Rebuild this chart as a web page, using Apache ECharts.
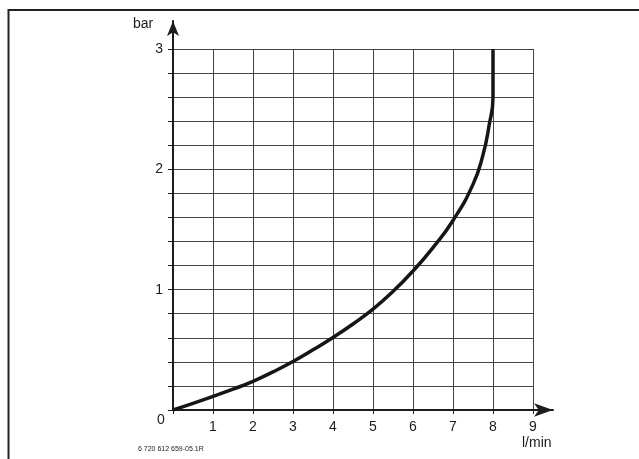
<!DOCTYPE html>
<html>
<head>
<meta charset="utf-8">
<script src="https://cdn.jsdelivr.net/npm/echarts@6/dist/echarts.min.js"></script>
<style>
  html, body { margin: 0; padding: 0; background: #fff; }
  #chart { width: 639px; height: 459px; }
</style>
</head>
<body>
<div id="chart"></div>
<script>
// Flow rate (l/min) against pressure (bar)
const flowRate = [0, 0.5, 1, 1.5, 2, 2.5, 3, 3.5, 4, 4.5, 5, 5.5, 6, 6.5, 7, 7.5, 7.75, 7.9, 8, 8];
const pressure = [0, 0.055, 0.113, 0.173, 0.238, 0.317, 0.403, 0.5, 0.603, 0.715, 0.838, 0.985, 1.155, 1.35, 1.575, 1.875, 2.12, 2.36, 2.6, 3.0];

const xTicks = [0, 1, 2, 3, 4, 5, 6, 7, 8, 9];
const yTicks = [0, 1, 2, 3];
const xName = 'l/min';
const yName = 'bar';
const footnote = '6 720 612 659-05.1R';

const FONT = '"Liberation Sans", Arial, sans-serif';
const INK = '#1c1c1c';

const chart = echarts.init(document.getElementById('chart'), null, { renderer: 'canvas' });

const curve = flowRate.map((x, i) => [x, pressure[i]]);

chart.setOption({
  animation: false,
  backgroundColor: '#fff',
  grid: [
    { left: 173, top: 49, right: 106, bottom: 49 },
    // wider frame carrying the arrowed axis lines
    { left: 173, top: 21, right: 86, bottom: 49 }
  ],
  xAxis: [
    {
      type: 'value', gridIndex: 0,
      min: xTicks[0], max: xTicks[xTicks.length - 1], interval: 1,
      axisLine: { show: false },
      axisTick: { show: true, length: 4, lineStyle: { color: INK, width: 1 } },
      axisLabel: {
        margin: 10, color: INK, fontFamily: FONT, fontSize: 14,
        formatter: v => (v === 0 ? '' : String(v))
      },
      splitLine: { show: true, lineStyle: { color: '#444', width: 1 } }
    },
    {
      type: 'value', gridIndex: 1, min: 0, max: 1,
      axisLine: {
        show: true, symbol: ['none', 'arrow'], symbolSize: [10, 19],
        lineStyle: { color: INK, width: 2 }
      },
      axisTick: { show: false }, axisLabel: { show: false }, splitLine: { show: false }
    }
  ],
  yAxis: [
    {
      type: 'value', gridIndex: 0,
      min: 0, max: yTicks[yTicks.length - 1], interval: 0.2,
      axisLine: { show: false },
      axisTick: { show: true, length: 5, lineStyle: { color: INK, width: 1 } },
      axisLabel: {
        margin: 10, color: INK, fontFamily: FONT, fontSize: 14,
        formatter: v => {
          const r = Math.round(v);
          return (Math.abs(v - r) < 1e-6 && r !== 0 && yTicks.includes(r)) ? String(r) : '';
        }
      },
      splitLine: { show: true, lineStyle: { color: '#444', width: 1 } }
    },
    {
      type: 'value', gridIndex: 1, min: 0, max: 1,
      axisLine: {
        show: true, symbol: ['none', 'arrow'], symbolSize: [9, 15],
        lineStyle: { color: INK, width: 2 }
      },
      axisTick: { show: false }, axisLabel: { show: false }, splitLine: { show: false }
    }
  ],
  series: [
    {
      type: 'line',
      xAxisIndex: 0, yAxisIndex: 0,
      data: curve,
      smooth: 0.5,
      showSymbol: false,
      lineStyle: { color: '#161616', width: 3.5 },
      z: 5
    }
  ],
  graphic: [
    {
      type: 'polyline',
      shape: { points: [[8.5, 459], [8.5, 10], [639, 10]] },
      style: { stroke: '#222', lineWidth: 2, fill: null },
      silent: true
    },
    {
      type: 'text', left: 157, top: 413,
      style: { text: '0', fill: INK, font: '14px ' + FONT }
    },
    {
      type: 'text', left: 133, top: 17,
      style: { text: yName, fill: INK, font: '14px ' + FONT }
    },
    {
      type: 'text', left: 522, top: 436,
      style: { text: xName, fill: INK, font: '14px ' + FONT }
    },
    {
      type: 'text', left: 138, top: 446,
      style: { text: footnote, fill: INK, font: '7px ' + FONT }
    }
  ]
});
</script>
</body>
</html>
